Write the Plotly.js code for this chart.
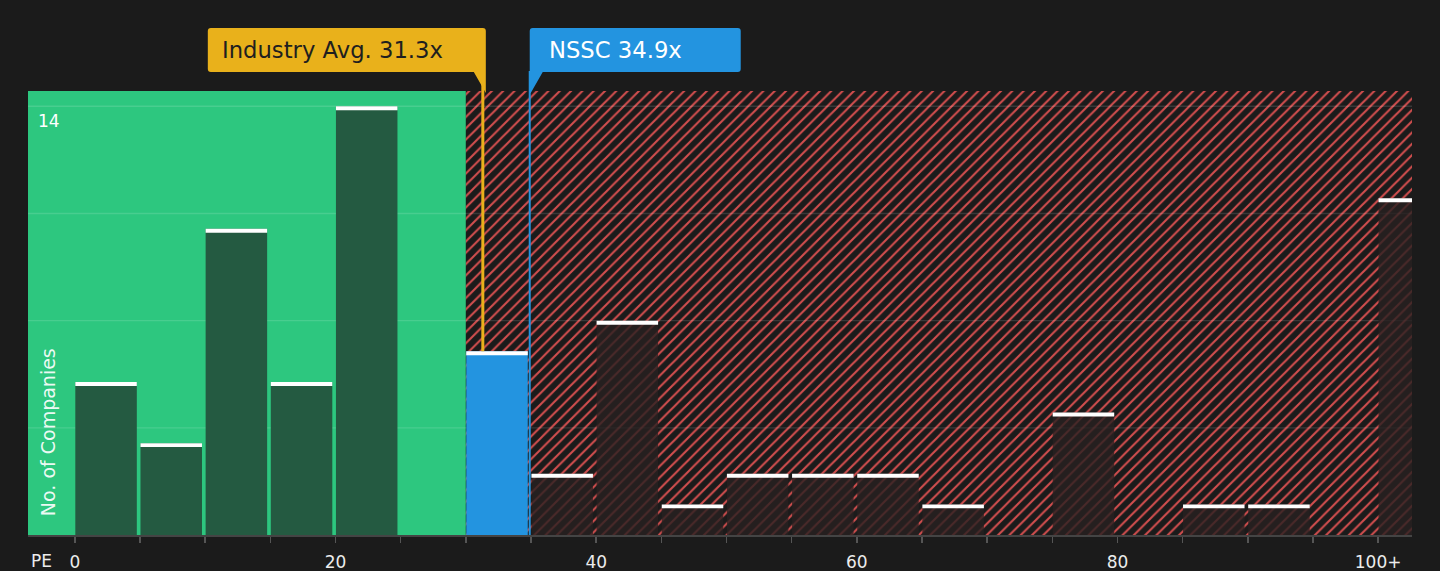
<!DOCTYPE html>
<html><head><meta charset="utf-8">
<script src="https://cdn.plot.ly/plotly-3.0.1.min.js"></script>
<style>html,body{margin:0;padding:0;background:#1b1b1b;overflow:hidden}#chart{width:1440px;height:571px}</style>
</head><body><div id="chart"></div>
<script>
const binStarts = [0,5,10,15,20,25,30,35,40,45,50,55,60,65,70,75,80,85,90,95,100];
const counts    = [5,3,10,5,14,0,6,2,7,1,2,2,2,1,0,4,0,1,1,0,11];
const tickVals   = [0,5,10,15,20,25,30,35,40,45,50,55,60,65,70,75,80,85,90,95,100];
const tickLabels = ['0','','','','20','','','','40','','','','60','','','','80','','','','100+'];
const gridVals = [3.5,7,10.5,14];
const yTickVals = [14];
const yTickLabels = ['14'];
const industryAvg = 31.3;
const companyPE = 34.9;
const companyName = 'NSSC';
const zoneSplit = 30;
const binWidth = 5;
const xRange = [-3.6, 102.6];
const yRange = [0, 14.5];

const FONT = 'DejaVu Sans';
const GREEN = '#2dc77f', RED = '#d24e4e', BG = '#1b1b1b', YEL = '#e9b11b', BLUE = '#2394e0';

const bx = [], by = [], bc = [];
binStarts.forEach((s,i)=>{
  if(counts[i] <= 0) return;
  bx.push(s); by.push(counts[i]);
  if(companyPE >= s && companyPE < s+binWidth) bc.push(BLUE);
  else if(s < zoneSplit) bc.push('#245a41');
  else bc.push('rgba(40,33,33,0.8)');
});
const nsscCount = counts[binStarts.findIndex(s=>companyPE>=s && companyPE<s+binWidth)];
const capH = 0.13, gridH = 0.045;

const traces = [
  {type:'bar', x:[xRange[0]], y:[yRange[1]], base:[0], width:[zoneSplit-xRange[0]], offset:0,
   marker:{color:GREEN, line:{width:0}}, hoverinfo:'skip', showlegend:false},
  {type:'bar', x:[zoneSplit], y:[yRange[1]], base:[0], width:[xRange[1]-zoneSplit+binWidth], offset:0,
   marker:{color:BG, line:{width:0}, pattern:{shape:'/', fgcolor:RED, bgcolor:BG, size:8, solidity:0.26}},
   hoverinfo:'skip', showlegend:false},
  {type:'bar', x:gridVals.map(()=>xRange[0]), y:gridVals.map(()=>gridH), base:gridVals.map(g=>g-gridH/2),
   width:gridVals.map(()=>xRange[1]-xRange[0]), offset:0,
   marker:{color:'rgba(255,255,255,0.13)', line:{width:0}}, hoverinfo:'skip', showlegend:false},
  {type:'bar', x:bx, y:by, offset:0.03, width:4.72, marker:{color:bc, line:{width:0}}, showlegend:false},
  {type:'bar', x:bx, y:bx.map(()=>capH), base:by.map(v=>v-capH), offset:0.03, width:4.72,
   marker:{color:'#ffffff', line:{width:0}}, hoverinfo:'skip', showlegend:false}
];

const layout = {
  width:1440, height:571,
  paper_bgcolor:BG, plot_bgcolor:BG,
  margin:{l:28, r:28, t:91, b:36},
  barmode:'overlay',
  font:{family:FONT, color:'#e8e8e8'},
  showlegend:false,
  xaxis:{range:xRange, tickvals:tickVals, ticktext:tickLabels, ticks:'outside', ticklen:6, tickwidth:1.5,
         tickcolor:'#555', showline:true, linecolor:'#444', linewidth:2, showgrid:false, zeroline:false,
         tickfont:{size:17, color:'#ececec', family:FONT}, ticklabelstandoff:5, fixedrange:true},
  yaxis:{range:yRange, tickvals:yTickVals, ticktext:yTickLabels, ticks:'', showgrid:false, zeroline:false,
         showline:false, ticklabelposition:'inside bottom', tickfont:{size:17, color:'#ffffff', family:FONT},
         ticklabelshift:3, ticklabelstandoff:7, fixedrange:true},
  shapes:[
    {type:'line', xref:'x', yref:'paper', x0:industryAvg, x1:industryAvg, y0:nsscCount/yRange[1], y1:1.045,
     line:{color:YEL, width:3}, layer:'above'},
    {type:'line', xref:'x', yref:'paper', x0:companyPE, x1:companyPE, y0:0, y1:1.045,
     line:{color:BLUE, width:2}, layer:'above'},
    {type:'path', xref:'x', yref:'paper', xsizemode:'pixel', ysizemode:'pixel', xanchor:industryAvg, yanchor:1,
     path:'M -275,60 Q -275,63 -272,63 L 0,63 Q 3,63 3,60 L 3,-2 L -9,19 L -272,19 Q -275,19 -275,22 Z',
     fillcolor:YEL, line:{width:0}, layer:'above'},
    {type:'path', xref:'x', yref:'paper', xsizemode:'pixel', ysizemode:'pixel', xanchor:companyPE, yanchor:1,
     path:'M 0,60 Q 0,63 3,63 L 208,63 Q 211,63 211,60 L 211,22 Q 211,19 208,19 L 13,19 L 1,-2 L 0,-2 Z',
     fillcolor:BLUE, line:{width:0}, layer:'above'}
  ],
  annotations:[
    {text:'Industry Avg. ' + industryAvg + 'x', xref:'x', x:industryAvg, xshift:-262.5, xanchor:'left',
     yref:'paper', y:1, yshift:41, yanchor:'middle', showarrow:false, font:{family:FONT, size:22.7, color:'#1f1f1f'}},
    {text:companyName + ' ' + companyPE + 'x', xref:'x', x:companyPE, xshift:17.5, xanchor:'left',
     yref:'paper', y:1, yshift:41, yanchor:'middle', showarrow:false, font:{family:FONT, size:22.7, color:'#ffffff'}},
    {text:'PE', xref:'paper', x:0.0101, xanchor:'center', yref:'paper', y:-0.058, yanchor:'middle',
     showarrow:false, font:{family:FONT, size:17, color:'#ececec'}},
    {text:'No. of Companies', xref:'paper', x:0.0145, xanchor:'center', yref:'paper', y:0.038, yanchor:'bottom',
     textangle:-90, showarrow:false, font:{family:FONT, size:19, color:'rgba(255,255,255,0.92)'}}
  ]
};
Plotly.newPlot('chart', traces, layout, {displayModeBar:false, staticPlot:true});
</script></body></html>
